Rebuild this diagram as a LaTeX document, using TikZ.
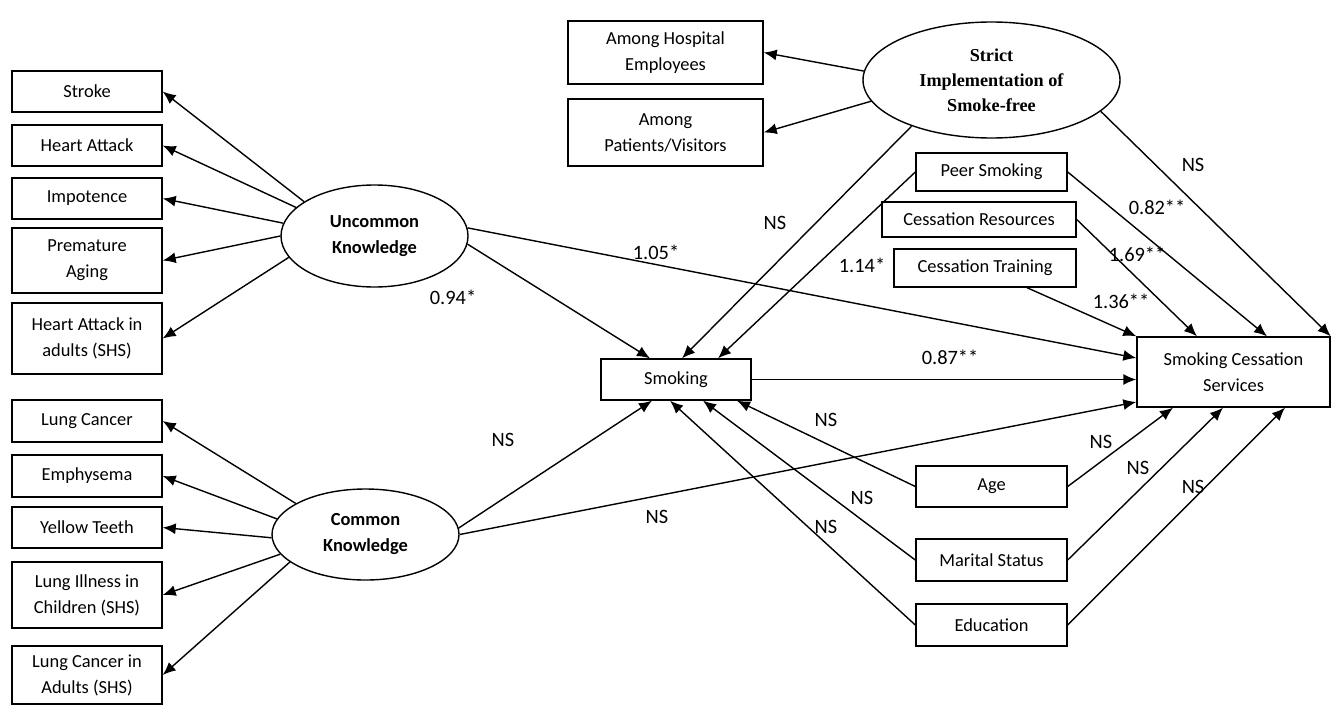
\documentclass[tikz,border=0pt]{standalone}
\usepackage{fontspec}
\setmainfont{Carlito}
\newfontfamily\timesfont{Liberation Serif}
\usetikzlibrary{shapes.geometric,arrows.meta,calc}

\newcommand{\varfont}{\fontsize{9.2}{13}\selectfont}
\newcommand{\latfont}{\fontsize{9.2}{13}\selectfont\bfseries}
\newcommand{\coeffont}{\fontsize{10.2}{12}\selectfont}

\tikzset{
    var/.style={draw, line width=0.7pt, inner sep=0pt, align=center, font=\varfont},
    leftvar/.style={var, minimum width=75pt},
    latent/.style={ellipse, draw, line width=0.7pt, inner sep=0pt, align=center, font=\latfont},
    effect/.style={-{Latex[length=6.5pt,width=5.5pt]}, line width=0.7pt},
    coef/.style={font=\coeffont, inner sep=0pt}
}

\begin{document}
\begin{tikzpicture}[x=0.5pt, y=-0.5pt]
    \useasboundingbox (0,0) rectangle (1331,706);

    % indicators, left
    \node[leftvar, minimum height=20.5pt] (stroke)  at (87,91.5)  {Stroke};
    \node[leftvar, minimum height=20.5pt] (heart)   at (87,145.5) {Heart Attack};
    \node[leftvar, minimum height=20.5pt] (impot)   at (87,198.5) {Impotence};
    \node[leftvar, minimum height=32.5pt] (aging)   at (87,260.5) {Premature\\Aging};
    \node[leftvar, minimum height=35.5pt] (heartshs) at (87,338.5) {Heart Attack in\\adults (SHS)};
    \node[leftvar, minimum height=21pt]   (lung)    at (87,421)   {Lung Cancer};
    \node[leftvar, minimum height=21pt]   (emph)    at (87,476)   {Emphysema};
    \node[leftvar, minimum height=20.5pt] (teeth)   at (87,527.5) {Yellow Teeth};
    \node[leftvar, minimum height=33pt]   (illshs)  at (87,595)   {Lung Illness in\\Children (SHS)};
    \node[leftvar, minimum height=29pt]   (lungshs) at (87,675)   {Lung Cancer in\\Adults (SHS)};

    % latent factors
    \node[latent, minimum width=93.5pt, minimum height=51pt]   (uk) at (374.5,236) {Uncommon\\Knowledge};
    \node[latent, minimum width=93.5pt, minimum height=45.5pt] (ck) at (365.5,534.5) {Common\\Knowledge};
    \node[latent, minimum width=128.5pt, minimum height=58pt, font=\fontsize{9.1}{12.5}\selectfont\timesfont\bfseries]
        (strict) at (991.5,80) {Strict\\Implementation of\\Smoke-free};

    % top indicators
    \node[var, minimum width=97.5pt, minimum height=31.5pt] (staff)   at (665.5,52.5)  {Among Hospital\\Employees};
    \node[var, minimum width=97.5pt, minimum height=33.5pt] (visitor) at (665.5,132.5) {Among\\Patients/Visitors};

    % observed variables
    \node[var, minimum width=75.5pt, minimum height=19pt]   (peer)  at (991.5,172) {Peer Smoking};
    \node[var, minimum width=97pt, minimum height=17.5pt]   (res)   at (979,219.5) {Cessation Resources};
    \node[var, minimum width=91pt, minimum height=19pt]     (train) at (985,268)   {Cessation Training};
    \node[var, minimum width=75pt, minimum height=20.5pt]   (smoke) at (676,379.5) {Smoking};
    \node[var, minimum width=96.5pt, minimum height=35pt]   (scs)   at (1233.5,372) {Smoking Cessation\\Services};
    \node[var, minimum width=75.5pt, minimum height=20.5pt] (age)   at (991.5,486.5) {Age};
    \node[var, minimum width=75.5pt, minimum height=21pt]   (marit) at (991.5,560)   {Marital Status};
    \node[var, minimum width=75.5pt, minimum height=21pt]   (edu)   at (991.5,625)   {Education};

    % loadings
    \draw[effect] (uk.154) -- (stroke.east);
    \draw[effect] (uk.160) -- (heart.east);
    \draw[effect] (uk.172) -- (impot.east);
    \draw[effect] (uk.180) -- (aging.east);
    \draw[effect] (uk.194) -- (heartshs.east);
    \draw[effect] (ck.156) -- (lung.east);
    \draw[effect] (ck.170) -- (emph.east);
    \draw[effect] (ck.182) -- (teeth.east);
    \draw[effect] (ck.193) -- (illshs.east);
    \draw[effect] (ck.200) -- (lungshs.east);
    \draw[effect] (strict.176) -- (staff.east);
    \draw[effect] (strict.190) -- (visitor.east);

    % paths to smoking
    \draw[effect] (uk.-5) -- ($(smoke.north)+(-26,0)$);
    \draw[effect] (strict.210) -- ($(smoke.north)+(6,0)$);
    \draw[effect] (peer.west) -- ($(smoke.north)+(42,0)$);
    \draw[effect] (ck.4) -- ($(smoke.south)+(-24,0)$);
    \draw[effect] (edu.west) -- ($(smoke.south)+(-6,0)$);
    \draw[effect] (marit.west) -- ($(smoke.south)+(27,0)$);
    \draw[effect] (age.west) -- ($(smoke.south)+(61,0)$);

    % paths to cessation services
    \draw[effect] (uk.5) -- ($(scs.west)+(0,-14)$);
    \draw[effect] (smoke.east) -- (smoke.east -| scs.west);
    \draw[effect] (ck.east) -- ($(scs.west)+(0,30)$);
    \draw[effect] ($(train.south)+(42,0)$) -- (scs.north west);
    \draw[effect] (res.east) -- ($(scs.north)+(-36.5,0)$);
    \draw[effect] (peer.east) -- ($(scs.north)+(33.5,0)$);
    \draw[effect] (strict.-16) -- (scs.north east);
    \draw[effect] (age.east) -- ($(scs.south)+(-60.5,0)$);
    \draw[effect] (marit.east) -- ($(scs.south)+(-10.5,0)$);
    \draw[effect] (edu.east) -- ($(scs.south)+(51.5,0)$);

    % coefficients
    \node[coef] (c-uk-scs)    at (656,252)  {1.05*};
    \node[coef] (c-uk-smk)    at (453,297)  {0.94*};
    \node[coef] (c-ck-smk)    at (503,440)  {NS};
    \node[coef] (c-ck-scs)    at (657,517)  {NS};
    \node[coef] (c-st-smk)    at (775,223)  {NS};
    \node[coef] (c-peer-smk)  at (862,265)  {1.14*};
    \node[coef] (c-st-scs)    at (1193,165) {NS};
    \node[coef] (c-peer-scs)  at (1157,207) {0.82**};
    \node[coef] (c-res-scs)   at (1137,254) {1.69**};
    \node[coef] (c-train-scs) at (1121,301) {1.36**};
    \node[coef] (c-smk-scs)   at (950,357)  {0.87**};
    \node[coef] (c-age-smk)   at (826,420)  {NS};
    \node[coef] (c-mar-smk)   at (862,498)  {NS};
    \node[coef] (c-edu-smk)   at (826,527)  {NS};
    \node[coef] (c-age-scs)   at (1101,442) {NS};
    \node[coef] (c-mar-scs)   at (1138,468) {NS};
    \node[coef] (c-edu-scs)   at (1193,487) {NS};
\end{tikzpicture}
\end{document}
